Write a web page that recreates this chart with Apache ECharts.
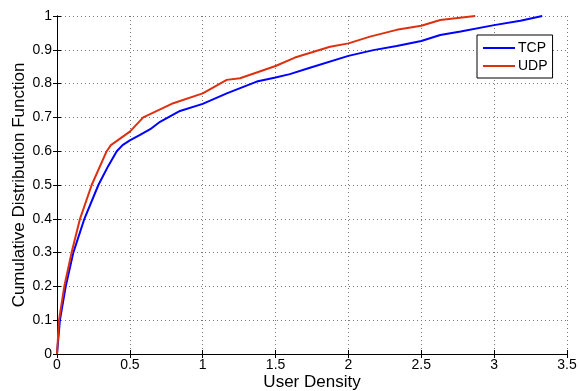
<!DOCTYPE html>
<html>
<head>
<meta charset="utf-8">
<script src="https://cdn.jsdelivr.net/npm/echarts@6/dist/echarts.min.js"></script>
<style>
html,body{margin:0;padding:0;background:#fff;}
#chart{width:579px;height:391px;}
</style>
</head>
<body>
<div id="chart"></div>
<script>
// values
var tcpX = [0, 0.02, 0.06, 0.112, 0.188, 0.284, 0.35, 0.41, 0.45, 0.5, 0.57, 0.64, 0.707, 0.844, 1.0, 1.165, 1.371, 1.5, 1.598, 1.736, 2.0, 2.171, 2.331, 2.5, 2.63, 2.77, 3.0, 3.18, 3.33];
var tcpY = [0, 0.1, 0.2, 0.3, 0.4, 0.5, 0.555, 0.6, 0.618, 0.632, 0.648, 0.665, 0.687, 0.719, 0.74, 0.771, 0.806, 0.818, 0.828, 0.847, 0.882, 0.899, 0.911, 0.926, 0.944, 0.954, 0.973, 0.986, 1.0];
var udpX = [0, 0.014, 0.05, 0.10, 0.158, 0.238, 0.341, 0.37, 0.5, 0.592, 0.798, 1.0, 1.165, 1.256, 1.5, 1.633, 1.874, 2.0, 2.148, 2.331, 2.5, 2.63, 2.87];
var udpY = [0, 0.1, 0.2, 0.3, 0.4, 0.5, 0.6, 0.618, 0.658, 0.7, 0.742, 0.771, 0.811, 0.816, 0.852, 0.877, 0.909, 0.919, 0.939, 0.959, 0.971, 0.988, 1.0];
var seriesNames = ['TCP', 'UDP'];
var xTitle = 'User Density';
var yTitle = 'Cumulative Distribution Function';

function pairs(xs, ys){
    var out = [];
    for(var i=0;i<xs.length;i++){
        out.push([xs[i], ys[i]]);
    }
    return out;
}

var font = 'Liberation Sans, Arial, Helvetica, sans-serif';
var chart = echarts.init(document.getElementById('chart'));
var option = {
    backgroundColor: '#fff',
    animation: false,
    color: ['#0000ff', '#dd3010'],
    grid: {left: 57, top: 16, right: 12, bottom: 37, outerBoundsMode: 'none', containLabel: false},
    legend: {
        data: seriesNames,
        orient: 'vertical',
        left: 477,
        top: 35,
        backgroundColor: '#fff',
        borderColor: '#000',
        borderWidth: 1,
        padding: [6, 5, 5, 6],
        itemGap: 4,
        itemWidth: 32,
        itemHeight: 2,
        icon: 'rect',
        textStyle: {fontFamily: font, fontSize: 14, color: '#000', padding: [0, 0, 0, -2]}
    },
    xAxis: [{
        type: 'value',
        min: 0, max: 3.5, interval: 0.5,
        name: xTitle,
        nameLocation: 'middle',
        nameGap: 20,
        nameMoveOverlap: false,
        nameTextStyle: {fontFamily: font, fontSize: 17, color: '#000'},
        axisLine: {lineStyle: {color: '#000', width: 1}},
        axisTick: {inside: true, length: 4, lineStyle: {color: '#000'}},
        axisLabel: {fontFamily: font, fontSize: 14, color: '#000', margin: 4},
        splitLine: {show: true, lineStyle: {type: [1, 3], color: '#777'}}
    }, {
        type: 'value',
        position: 'top',
        min: 0, max: 3.5, interval: 0.5,
        axisLine: {lineStyle: {color: '#000', width: 1}},
        axisTick: {inside: true, length: 4, lineStyle: {color: '#000'}},
        axisLabel: {show: false},
        splitLine: {show: false}
    }],
    yAxis: [{
        type: 'value',
        min: 0, max: 1, interval: 0.1,
        name: yTitle,
        nameLocation: 'middle',
        nameGap: 29,
        nameMoveOverlap: false,
        nameTextStyle: {fontFamily: font, fontSize: 17, color: '#000'},
        axisLine: {show: true, lineStyle: {color: '#000', width: 1}},
        axisTick: {show: true, inside: true, length: 4, lineStyle: {color: '#000'}},
        axisLabel: {fontFamily: font, fontSize: 14, color: '#000', margin: 5,
            formatter: function(v){ return (Math.round(v*10)/10).toString(); }},
        splitLine: {show: true, lineStyle: {type: [1, 3], color: '#777'}}
    }, {
        type: 'value',
        position: 'right',
        min: 0, max: 1, interval: 0.1,
        axisLine: {show: true, lineStyle: {color: '#000', width: 1}},
        axisTick: {show: true, inside: true, length: 4, lineStyle: {color: '#000'}},
        axisLabel: {show: false},
        splitLine: {show: false}
    }],
    series: [{
        name: seriesNames[0],
        type: 'line',
        symbol: 'none',
        lineStyle: {width: 2},
        data: pairs(tcpX, tcpY)
    }, {
        name: seriesNames[1],
        type: 'line',
        symbol: 'none',
        lineStyle: {width: 2},
        data: pairs(udpX, udpY)
    }]
};
chart.setOption(option);
</script>
</body>
</html>
